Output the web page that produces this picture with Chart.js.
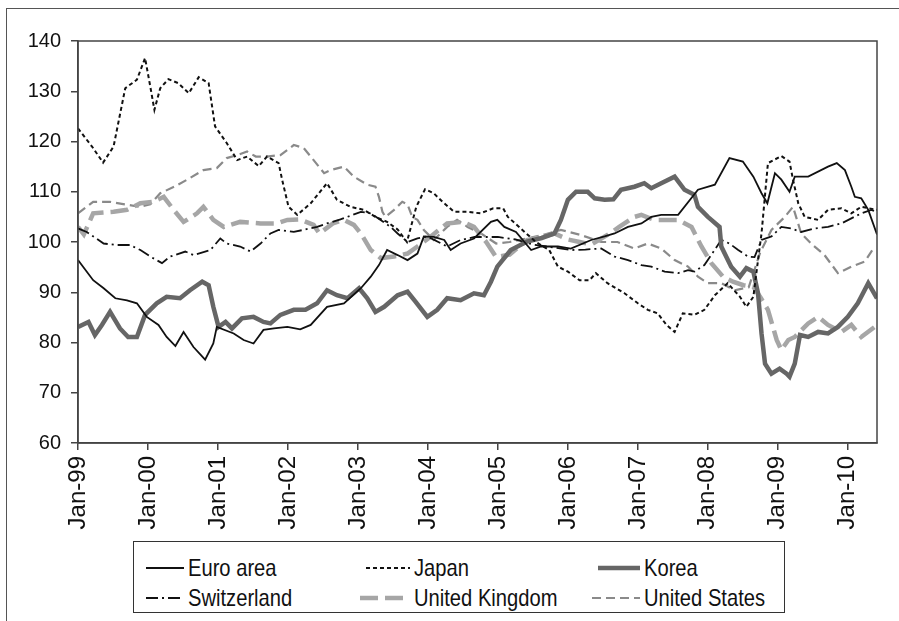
<!DOCTYPE html>
<html>
<head>
<meta charset="utf-8">
<script src="https://cdn.jsdelivr.net/npm/chart.js@4.4.0/dist/chart.umd.min.js"></script>
<style>
html, body { margin: 0; padding: 0; background: #fff; overflow: hidden; }
#wrap { position: relative; width: 899px; height: 621px; overflow: hidden; }
#frame { position: absolute; left: 6px; top: 8px; width: 1000px; height: 1000px; border: 1.5px solid #555; box-sizing: border-box; }
#chart { position: absolute; left: 0; top: 0; }
#legend { position: absolute; left: 133px; top: 541px; width: 652px; height: 72px; border: 1.5px solid #333; box-sizing: border-box; background: #fff; }
.item { position: absolute; height: 28px; line-height: 28px; white-space: nowrap; color: #111; font-family: "Liberation Sans", Arial, sans-serif; font-size: 24px; }
.item svg { position: absolute; top: 9px; }
.item span { position: absolute; top: 0; transform: scaleX(0.84); transform-origin: left center; }
</style>
</head>
<body>
<div id="wrap">
  <div id="frame"></div>
  <canvas id="chart" width="899" height="621"></canvas>
  <div id="legend"></div>
</div>
<script>
// months counted from Jan-99
const yearLabels = ["Jan-99", "Jan-00", "Jan-01", "Jan-02", "Jan-03", "Jan-04", "Jan-05", "Jan-06", "Jan-07", "Jan-08", "Jan-09", "Jan-10"];

const euroMonths = [0, 2.6, 4.4, 6.4, 8.4, 10.1, 11.8, 13.8, 15.2, 16.7, 18.1, 19.8, 21.8, 23.2, 23.8, 26.7, 28.4, 30.1, 31.8, 33.6, 35.9, 38.1, 39.9, 42.7, 45.6, 48.5, 50.2, 51.6, 53, 54.8, 56.5, 58.2, 59.3, 61, 62.8, 63.9, 65.6, 67.9, 70.8, 71.9, 73.1, 75.1, 77.7, 79.4, 82.3, 84.5, 88, 90.3, 92, 94.3, 96.6, 98.3, 100, 102.9, 106.3, 109.2, 111.7, 114, 115.8, 117.2, 118.2, 119.5, 120.6, 122, 122.9, 125.2, 128.6, 130.1, 131.5, 132.6, 133.2, 134.3, 135.5, 137];
const euroArea = [96.4, 92.4, 90.8, 88.8, 88.4, 87.8, 85.1, 83.5, 81.1, 79.3, 82.1, 79.1, 76.6, 79.8, 83.1, 81.8, 80.5, 79.8, 82.5, 82.8, 83.1, 82.6, 83.5, 87.1, 87.8, 90.8, 93.1, 95.4, 98.4, 97.4, 96.4, 97.7, 101.1, 101, 100.4, 98.4, 99.7, 100.7, 104, 104.4, 103, 102, 98.4, 99.1, 99.1, 98.7, 100.4, 101.1, 101.7, 103, 103.7, 105, 105.4, 105.4, 110.4, 111.4, 116.7, 116, 113, 109.7, 107.7, 113.7, 112.4, 110, 113, 113, 115, 115.7, 114.3, 111, 109, 108.7, 106.4, 101.5];

const japanMonths = [0, 2.4, 4.3, 6.1, 8.1, 10.1, 11.5, 12.4, 13.1, 14.1, 15.5, 17.2, 19, 20.7, 22.4, 23.5, 25.5, 27.3, 29, 31, 32.4, 34.4, 35, 36.1, 37.6, 39.9, 42.7, 44.4, 46.7, 49, 51, 53, 54.8, 56.4, 58, 59.5, 61, 62.5, 64.5, 66.8, 69, 71.2, 72.9, 73.7, 76.2, 78.5, 80.8, 82.3, 84, 86, 87.7, 88.8, 90.8, 93.7, 96, 97.7, 99.4, 100.9, 102.3, 103.7, 105.7, 107.4, 109.2, 111.4, 113.5, 114.6, 115.8, 116.6, 117.2, 118.3, 120.6, 122, 122.6, 123.5, 124.6, 126.9, 128.6, 130.9, 132.6, 134.3, 137];
const japan = [122.6, 119, 115.8, 119, 130.6, 132.3, 136.6, 130.9, 126.3, 130.6, 132.4, 131.6, 129.6, 132.8, 131.6, 123, 119.7, 116.3, 117, 115.1, 117, 115.7, 112.4, 107, 105.4, 107.7, 111.7, 108.4, 107, 106.4, 105, 104, 102.5, 100, 107, 110.5, 109.7, 108, 106, 106, 105.7, 106.7, 106.7, 105, 102.4, 100, 98.4, 95.1, 94.1, 92.4, 92.4, 93.8, 91.8, 89.8, 87.8, 86.5, 85.8, 83.5, 82.1, 85.8, 85.5, 86.5, 89.4, 91.8, 89.1, 87.1, 89.1, 96.4, 101.7, 115.7, 117.1, 116, 112.4, 107.7, 105, 104.4, 106.4, 106.7, 105.7, 107, 106.4];

const koreaMonths = [0, 1.8, 2.9, 4.1, 5.5, 7.2, 8.6, 10.1, 11.5, 13.5, 15.2, 17.5, 19.2, 21.3, 22.4, 23.2, 24.1, 25.3, 26.4, 28.1, 30.1, 31.8, 33, 34.7, 37, 39, 41, 42.7, 44.4, 46.2, 48.2, 49.6, 51, 52.5, 54.8, 56.5, 57.9, 59.9, 61.6, 63.3, 65.6, 67.9, 69.6, 70.8, 71.9, 74.2, 77, 79.5, 81.7, 82.8, 84, 85.4, 87.4, 88.6, 90.3, 91.8, 93.1, 95.4, 97.1, 98.3, 100, 102.3, 104, 105.7, 106.3, 108, 108.6, 110, 110.3, 112, 113.5, 114.6, 115.8, 116.6, 117.2, 117.8, 118.9, 120.3, 121.5, 122, 122.9, 123.8, 125.2, 126.9, 128.6, 130.3, 132, 133.7, 135.5, 137];
const korea = [83.1, 84.1, 81.5, 83.5, 86.1, 82.8, 81.1, 81.1, 85.5, 87.8, 89.1, 88.8, 90.4, 92.1, 91.4, 87.1, 83.1, 84.1, 82.8, 84.8, 85.1, 84.1, 83.8, 85.5, 86.5, 86.5, 87.8, 90.4, 89.4, 88.8, 90.8, 88.8, 86.1, 87.1, 89.4, 90.1, 88.1, 85.1, 86.5, 88.8, 88.4, 89.8, 89.4, 92.1, 95.1, 98.4, 100.1, 100.8, 101.7, 104.4, 108.4, 110, 110, 108.7, 108.4, 108.5, 110.4, 111, 111.7, 110.7, 111.7, 113, 110.4, 109.4, 107, 105, 104.4, 103, 99.1, 95.1, 93.1, 94.8, 94.1, 89.8, 81.8, 75.8, 73.8, 74.8, 73.8, 73.2, 75.8, 81.5, 81.1, 82.1, 81.8, 83.1, 85.1, 87.8, 91.8, 88.8];

const swissMonths = [0, 1.5, 4.4, 6.6, 8.9, 10.7, 12.4, 14.4, 15.8, 18.4, 19.8, 22.7, 24.4, 25.5, 27.8, 29.6, 31.3, 33, 34.4, 37, 41, 42.7, 45, 48.5, 50.2, 53.6, 54.8, 56.5, 58.2, 59.9, 63.3, 65.6, 68, 72, 75, 78, 81, 84.5, 87, 89.7, 92, 94.3, 96.6, 98.3, 100.6, 102.9, 104.6, 105.7, 107.4, 110.3, 111.7, 113.2, 114.9, 116, 117.2, 118.9, 120.6, 122.3, 124, 126.3, 128.6, 130.9, 132.6, 134.3, 136, 137];
const switzerland = [102.7, 102, 99.7, 99.4, 99.4, 98.4, 97.1, 95.8, 97.1, 98.1, 97.4, 98.4, 100.7, 99.7, 99.1, 98.1, 99.7, 101.7, 102.4, 102, 103, 103.7, 104.5, 106, 105.7, 103, 101.7, 100, 100.7, 101.1, 99.1, 100.4, 101, 101, 100.5, 99.5, 99, 98.4, 98.5, 98.7, 97.1, 96.4, 95.4, 95.1, 94.1, 93.8, 94.4, 94.1, 95.4, 100.4, 99.7, 98.4, 97.1, 97, 100.4, 101.1, 103, 102.7, 102, 102.7, 103, 103.7, 104.7, 105.7, 106.4, 106];

const ukMonths = [0, 1, 2.6, 6.1, 8.4, 10.7, 12.9, 14.7, 16.4, 18.1, 20.4, 21.5, 23.2, 25, 27.8, 31.3, 34.1, 35.9, 38, 40.4, 41.4, 43.7, 45.6, 47.3, 48.5, 50.2, 51.9, 54.2, 56.5, 58.2, 60.5, 63.3, 66, 67.9, 70, 71.7, 74, 77, 79.5, 81.7, 84, 86, 88, 91.2, 92.8, 95.4, 96.6, 98.8, 102.9, 105.2, 106.9, 108.6, 110.6, 112.3, 114.1, 115.8, 117, 118.3, 119.8, 120.6, 121.8, 122.9, 125.2, 126.9, 128.6, 130.9, 132.6, 134.3, 136.6];
const unitedKingdom = [103, 101.5, 105.7, 106, 106.4, 107.7, 108, 109, 106.4, 104, 105.7, 107, 104.4, 103, 104, 103.7, 103.7, 104.4, 104.5, 103.4, 101.7, 103.7, 104.4, 103.4, 101.7, 98.4, 96.8, 97.1, 97.7, 99.1, 101.1, 103.7, 104, 103, 100, 97, 97.5, 100.4, 101, 101.7, 100.5, 100, 99.5, 101.7, 103, 105, 105.4, 104.4, 104.4, 103, 99.1, 95.8, 93.1, 92.1, 91.4, 91.1, 89, 86.5, 80.5, 78.5, 80.5, 81.1, 83.8, 85.1, 83.5, 82.1, 83.5, 81.1, 83.1];

const usMonths = [0, 2.6, 5.5, 8, 10.5, 12.4, 14.1, 16.5, 18.7, 21.5, 23.8, 25.5, 27.3, 29, 30.5, 32.4, 34.7, 37, 38.7, 40.4, 42.2, 43.3, 45.6, 47.3, 49.6, 51, 51.6, 52.2, 52.7, 54.2, 55.6, 56.5, 57.3, 58.2, 59.3, 61, 63.3, 65, 66.8, 69.1, 71.7, 74, 77, 80, 82.8, 86.2, 89.7, 92.5, 95.4, 97.7, 100, 102.3, 104.6, 106.3, 108, 110.3, 112.6, 115, 117, 118.9, 121.2, 122.6, 124, 125.7, 128, 130.3, 132.6, 134.9, 136.6];
const unitedStates = [105.7, 108, 108, 107.5, 107, 107.5, 109.7, 111, 112.4, 114.3, 114.7, 116.7, 117.3, 118, 117, 117, 117.3, 119.3, 118.7, 116.3, 113.7, 114.3, 115, 113, 111.4, 111, 109, 106, 105, 106.4, 108, 107.5, 105, 104.4, 102.4, 100.4, 103, 104.4, 103, 101.7, 99.7, 100, 100.7, 101.5, 102.4, 101.4, 100, 100, 98.7, 99.7, 98.7, 96.4, 95.1, 93.1, 91.8, 91.8, 90.4, 91, 98, 102.4, 105, 107, 101.7, 99.7, 97.4, 93.8, 95.1, 96.1, 99.1];

const FONT = '"Liberation Sans", Arial, sans-serif';

const pts = (ms, vs) => ms.map((m, i) => ({ x: m, y: vs[i] }));

const series = [
  { label: "Euro area", data: pts(euroMonths, euroArea), borderColor: "#111", borderWidth: 1.8, borderDash: [] },
  { label: "Japan", data: pts(japanMonths, japan), borderColor: "#111", borderWidth: 2, borderDash: [4, 3] },
  { label: "Korea", data: pts(koreaMonths, korea), borderColor: "#666", borderWidth: 4.5, borderDash: [] },
  { label: "Switzerland", data: pts(swissMonths, switzerland), borderColor: "#111", borderWidth: 1.8, borderDash: [12, 4, 2, 4] },
  { label: "United Kingdom", data: pts(ukMonths, unitedKingdom), borderColor: "#a6a6a6", borderWidth: 4.5, borderDash: [18, 7] },
  { label: "United States", data: pts(usMonths, unitedStates), borderColor: "#8a8a8a", borderWidth: 2.2, borderDash: [9, 5] },
];

// box round the plot area
const plotBox = {
  id: "plotBox",
  afterDraw(chart) {
    const { ctx, chartArea: a } = chart;
    ctx.save();
    ctx.strokeStyle = "#444";
    ctx.lineWidth = 1.5;
    ctx.strokeRect(a.left, a.top, a.right - a.left, a.bottom - a.top);
    ctx.restore();
  }
};

new Chart(document.getElementById("chart"), {
  type: "line",
  data: { datasets: series.map(s => ({ ...s, fill: false, pointRadius: 0, tension: 0 })) },
  options: {
    responsive: false,
    animation: false,
    layout: { padding: { left: 0, top: 41, right: 22, bottom: 0 } },
    plugins: { legend: { display: false }, tooltip: { enabled: false } },
    scales: {
      x: {
        type: "linear",
        min: 0,
        max: 137,
        afterFit(s) { s.height = 178; },
        afterBuildTicks(s) { s.ticks = yearLabels.map((l, i) => ({ value: i * 12 })); },
        ticks: {
          autoSkip: false,
          maxRotation: 90,
          minRotation: 90,
          padding: 6,
          color: "#111",
          font: { family: FONT, size: 24 },
          callback: (v, i) => yearLabels[i]
        },
        grid: { drawOnChartArea: false, tickLength: 7, color: "#444", lineWidth: 1.5 },
        border: { color: "#444", width: 1.5 }
      },
      y: {
        min: 60,
        max: 140,
        afterFit(s) { s.width = 78; },
        ticks: { stepSize: 10, padding: 10, color: "#111", font: { family: FONT, size: 20 } },
        grid: { drawOnChartArea: false, tickLength: 7, color: "#444", lineWidth: 1.5 },
        border: { color: "#444", width: 1.5 }
      }
    }
  },
  plugins: [plotBox]
});

// legend: three columns, two rows
const textLeft = [187, 413, 643];
const rowTop = [553, 583];
const sampleWidth = [38, 44, 42, 38, 50, 48];
const legend = document.getElementById("legend");
series.forEach((s, i) => {
  const col = i % 3, row = Math.floor(i / 3);
  const w = sampleWidth[i];
  const item = document.createElement("div");
  item.className = "item";
  item.style.left = (textLeft[col] - 133 - w - 4) + "px";
  item.style.top = (rowTop[row] - 541) + "px";
  const svg = '<svg width="' + w + '" height="10"><line x1="0" y1="5" x2="' + w + '" y2="5" stroke="' + s.borderColor +
    '" stroke-width="' + s.borderWidth + '" stroke-dasharray="' + (s.borderDash.length ? s.borderDash.join(",") : "none") + '"/></svg>';
  item.innerHTML = svg + '<span style="left:' + (w + 4) + 'px">' + s.label + '</span>';
  legend.appendChild(item);
});
</script>
</body>
</html>
